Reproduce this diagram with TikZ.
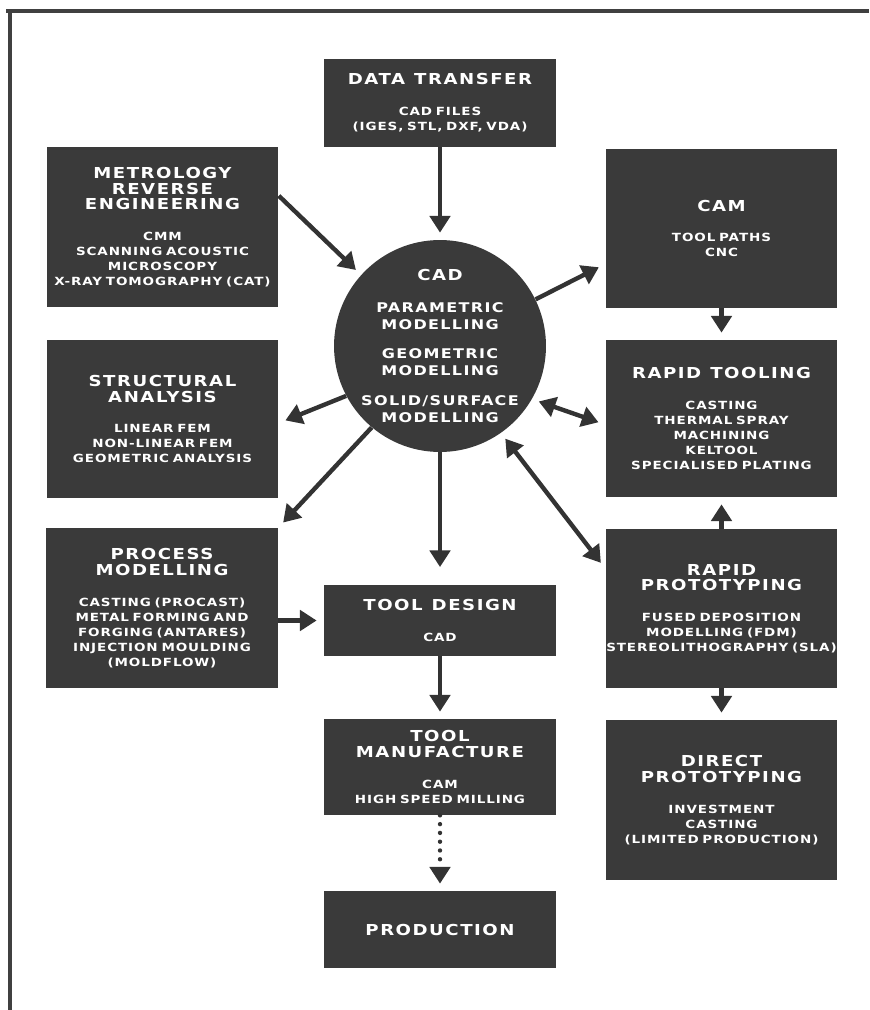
\documentclass[tikz,border=0pt]{standalone}
\usepackage{fontspec}
\usetikzlibrary{arrows.meta}

\newfontfamily\headfont[FakeStretch=1.2,LetterSpace=10]{DejaVu Sans}
\newfontfamily\bodyfont[FakeStretch=1.2,LetterSpace=8]{DejaVu Sans}
\newcommand{\hd}{\headfont\bfseries\fontsize{8.6}{9}\selectfont\spaceskip=0.6em}
\newcommand{\bd}{\bodyfont\bfseries\fontsize{6.4}{8.5}\selectfont\spaceskip=0.55em}
\newcommand{\sub}{\headfont\bfseries\fontsize{7.6}{9.5}\selectfont\spaceskip=0.6em}

\definecolor{boxgray}{HTML}{3A3A3A}
\definecolor{arrowgray}{HTML}{333333}
\definecolor{framegray}{HTML}{404040}

\begin{document}
\begin{tikzpicture}
            [x=0.02cm,y=-0.02cm,
             panel/.style={rectangle,fill=boxgray,text=white,font=\bd,align=center,
                           text width=4.64cm,inner xsep=0pt,inner ysep=0pt,minimum height=#1},
             hub/.style={circle,fill=boxgray,text=white,align=center,
                         text width=3.3cm,inner sep=-3mm,minimum size=4.24cm},
             arr/.style={draw=arrowgray,line width=2.5pt,-{Triangle[length=9.5pt,width=11.5pt]},shorten >=4pt},
             dbl/.style={arr,{Triangle[length=9.5pt,width=11.5pt]}-{Triangle[length=9.5pt,width=11.5pt]},shorten <=4pt},
             dotarr/.style={arr,line cap=round,dash pattern=on 0pt off 5pt}]
            \useasboundingbox (0,0) rectangle (869,1010);
            % frame
            \draw[framegray,line width=2.3pt] (6,11) -- (869,11);
            \draw[framegray,line width=2.8pt] (10,11) -- (10,1010);

            \node[panel=1.76cm] (dt) at (440,103)
                {{\hd DATA TRANSFER\par}\vspace{9pt}CAD FILES\\(IGES, STL, DXF, VDA)};
            \node[panel=3.2cm] (meta) at (162.5,227)
                {{\hd METROLOGY\\REVERSE\\ENGINEERING\par}\vspace{9pt}CMM\\SCANNING ACOUSTIC\\MICROSCOPY\\\mbox{X-RAY TOMOGRAPHY (CAT)}};
            \node[panel=3.18cm] (cam) at (721.5,228.5)
                {{\hd CAM\par}\vspace{9pt}TOOL PATHS\\CNC};
            \node[hub] (cad) at (440,346)
                {{\hd CAD\par}\vspace{8.5pt}{\sub PARAMETRIC\\MODELLING\par}\vspace{7.5pt}{\sub GEOMETRIC\\MODELLING\par}\vspace{7.5pt}{\sub SOLID/SURFACE\\MODELLING\par}};
            \node[panel=3.16cm] (struct) at (162.5,419)
                {{\hd STRUCTURAL\\ANALYSIS\par}\vspace{9pt}LINEAR FEM\\NON-LINEAR FEM\\GEOMETRIC ANALYSIS};
            \node[panel=3.14cm] (rt) at (721.5,418.5)
                {{\hd RAPID TOOLING\par}\vspace{9pt}CASTING\\THERMAL SPRAY\\MACHINING\\KELTOOL\\SPECIALISED PLATING};
            \node[panel=3.2cm] (proc) at (162,608)
                {{\hd PROCESS\\MODELLING\par}\vspace{9pt}CASTING (PROCAST)\\METAL FORMING AND\\FORGING (ANTARES)\\INJECTION MOULDING\\(MOLDFLOW)};
            \node[panel=1.42cm] (td) at (440,620.5)
                {{\hd TOOL DESIGN\par}\vspace{9pt}CAD};
            \node[panel=3.18cm] (rp) at (721.5,608.5)
                {{\hd RAPID\\PROTOTYPING\par}\vspace{9pt}FUSED DEPOSITION\\MODELLING (FDM)\\\mbox{STEREOLITHOGRAPHY (SLA)}};
            \node[panel=1.92cm] (tm) at (440,767)
                {{\hd TOOL\\MANUFACTURE\par}\vspace{9pt}CAM\\HIGH SPEED MILLING};
            \node[panel=3.2cm] (dp) at (721.5,800)
                {{\hd DIRECT\\PROTOTYPING\par}\vspace{9pt}INVESTMENT\\CASTING\\(LIMITED PRODUCTION)};
            \node[panel=1.54cm] (prod) at (440,929.5)
                {\hd PRODUCTION};

            \draw[arr] (dt) -- (cad);
            \draw[arr] (meta.15) -- (cad.138);
            \draw[arr] (cad.26) -- (cam.197);
            \draw[arr] (cam) -- (rt);
            \draw[dbl] (cad.-30) -- (rt.183);
            \draw[arr] (cad.208) -- (struct.-2);
            \draw[arr] (cad.230) -- (proc.north east);
            \draw[arr,shorten >=10pt] (cad) -- (td);
            \draw[dbl] (cad.-55) -- (rp.161);
            \draw[arr] (rp) -- (rt);
            \draw[arr] (proc.east |- td.west) -- (td.west);
            \draw[arr] (td) -- (tm);
            \draw[dotarr] (tm) -- (prod);
            \draw[arr] (rp) -- (dp);
        \end{tikzpicture}
\end{document}
